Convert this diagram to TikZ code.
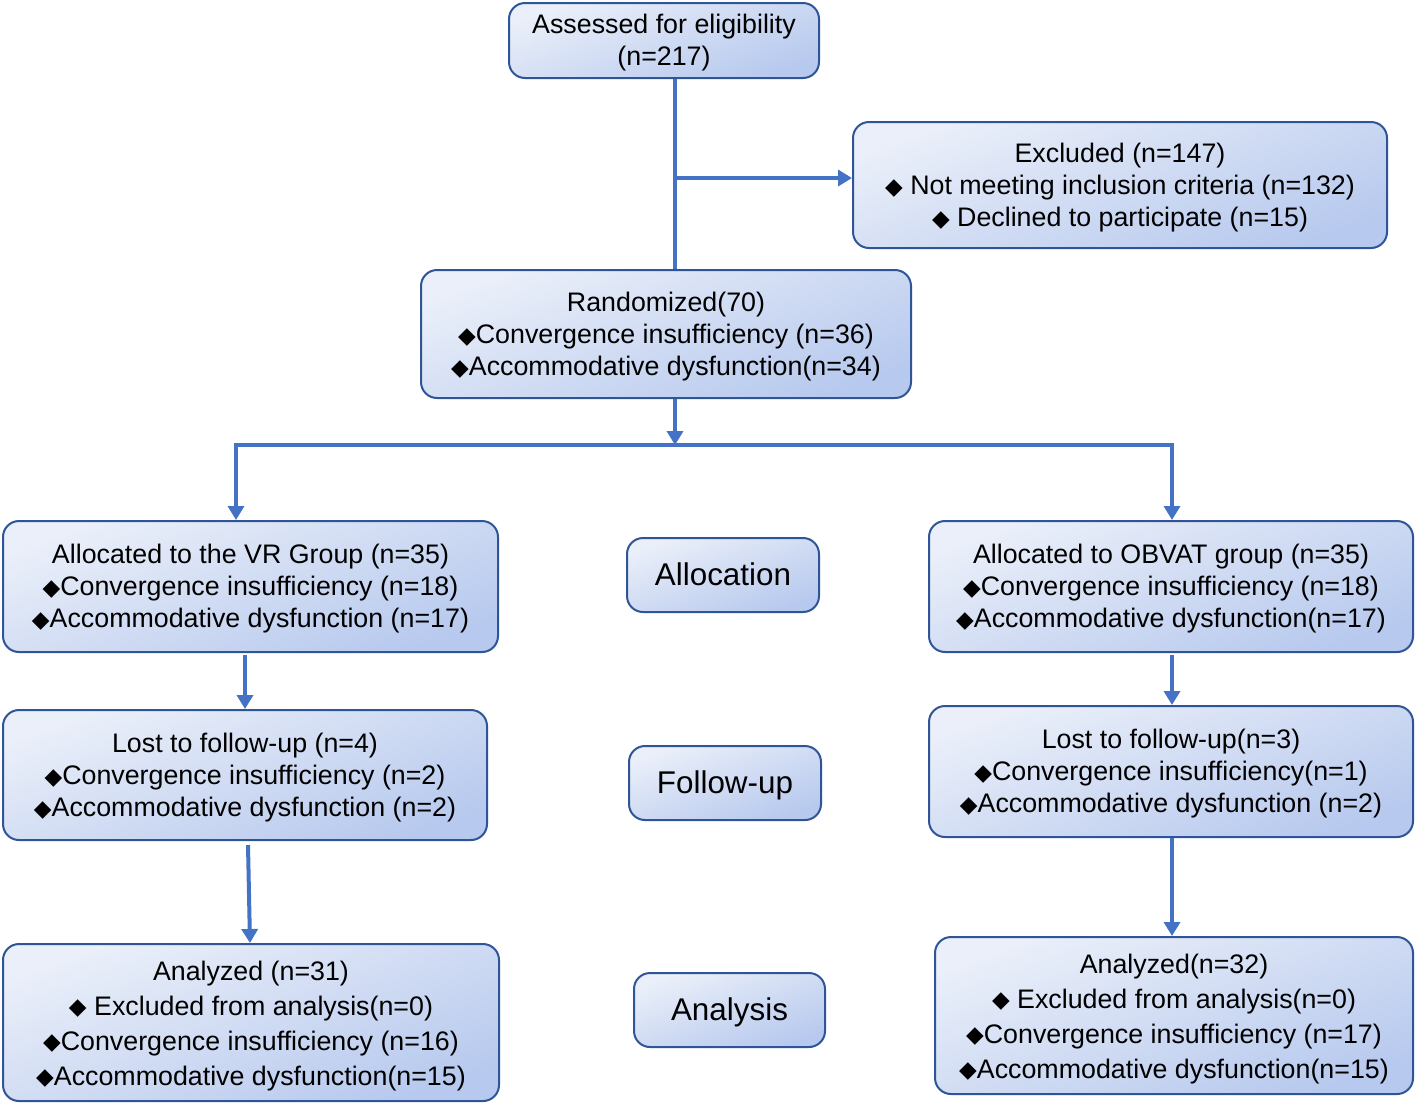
\documentclass[tikz,border=0pt]{standalone}
\usepackage{fontspec}
\setmainfont{Liberation Sans}
\newfontfamily\djv{DejaVu Sans}
\usetikzlibrary{arrows.meta}
\definecolor{boxtop}{HTML}{EAEFF9}
\definecolor{boxbot}{HTML}{B7C9EE}
\definecolor{boxline}{HTML}{2F5597}
\definecolor{arrc}{HTML}{4472C4}
\newcommand{\dia}{{\djv\fontsize{11.5}{10}\selectfont\raisebox{0.2pt}{◆}}}
\newcommand{\tx}[1]{\raisebox{-1.5pt}[\height][\depth]{\begin{tabular}{@{}c@{}}#1\end{tabular}}}
\tikzset{
  box/.style={draw=boxline, line width=1pt, rounded corners=8pt, top color=boxtop, bottom color=boxbot, shading angle=20, inner sep=0pt, font=\fontsize{13.4}{16}\selectfont},
  tall/.style={font=\fontsize{13.4}{17.5}\selectfont},
  lab/.style={box, font=\fontsize{15.7}{18}\selectfont},
  conn/.style={draw=arrc, line width=2pt},
  tip/.tip={Triangle[width=8pt,length=7pt]},
  arr/.style={conn, -tip}
}
\begin{document}
\begin{tikzpicture}[x=0.5pt,y=-0.5pt]
\useasboundingbox (0,0) rectangle (1416,1105);
% boxes
\node[box, minimum width=155pt, minimum height=37.5pt] (assess) at (664,40.5) {\tx{Assessed for eligibility\\(n=217)}};
\node[box, minimum width=267pt, minimum height=63pt] (excl) at (1120,185) {\tx{Excluded (n=147)\\\dia\ Not meeting inclusion criteria (n=132)\\\dia\ Declined to participate (n=15)}};
\node[box, minimum width=245pt, minimum height=64pt] (rand) at (666,334) {\tx{Randomized(70)\\\dia Convergence insufficiency (n=36)\\\dia Accommodative dysfunction(n=34)}};
\node[box, minimum width=247.5pt, minimum height=65.5pt] (vrA) at (250.5,586.5) {\tx{Allocated to the VR Group (n=35)\\\dia Convergence insufficiency (n=18)\\\dia Accommodative dysfunction (n=17)}};
\node[lab, minimum width=96pt, minimum height=37pt] (labA) at (723,575) {\tx{Allocation}};
\node[box, minimum width=242pt, minimum height=65.5pt] (obA) at (1171,586.5) {\tx{Allocated to OBVAT group (n=35)\\\dia Convergence insufficiency (n=18)\\\dia Accommodative dysfunction(n=17)}};
\node[box, minimum width=242pt, minimum height=65pt] (vrL) at (245,775) {\tx{Lost to follow-up (n=4)\\\dia Convergence insufficiency (n=2)\\\dia Accommodative dysfunction (n=2)}};
\node[lab, minimum width=96pt, minimum height=37pt] (labF) at (725,783) {\tx{Follow-up}};
\node[box, minimum width=242pt, minimum height=65.5pt] (obL) at (1171,771.5) {\tx{Lost to follow-up(n=3)\\\dia Convergence insufficiency(n=1)\\\dia Accommodative dysfunction (n=2)}};
\node[box, tall, minimum width=248pt, minimum height=78.5pt] (vrN) at (251,1022.5) {\tx{Analyzed (n=31)\\\dia\ Excluded from analysis(n=0)\\\dia Convergence insufficiency (n=16)\\\dia Accommodative dysfunction(n=15)}};
\node[lab, minimum width=95.5pt, minimum height=37pt] (labN) at (729.5,1010) {\tx{Analysis}};
\node[box, tall, minimum width=239pt, minimum height=78.5pt] (obN) at (1174,1015.5) {\tx{Analyzed(n=32)\\\dia\ Excluded from analysis(n=0)\\\dia Convergence insufficiency (n=17)\\\dia Accommodative dysfunction(n=15)}};
% connectors
\coordinate (j1) at (675,178);
\coordinate (sp) at (675,445);
\coordinate (sl) at (236,445);
\coordinate (sr) at (1172,445);
\draw[conn] (assess.south -| j1) -- (rand.north -| j1);
\draw[arr] (j1) -- (excl.west |- j1);
\draw[arr] (rand.south -| j1) -- (sp);
\draw[conn, tip-tip] (vrA.north -| sl) -- (sl) -- (sr) -- (obA.north -| sr);
\coordinate (c1) at (245,655);
\draw[arr] (c1) -- (vrL.north -| c1);
\coordinate (c2) at (248,845);
\coordinate (c2e) at (250,944);
\draw[arr] (c2) -- (vrN.north -| c2e);
\coordinate (c3) at (1172,655);
\draw[arr] (c3) -- (obL.north -| c3);
\coordinate (c4) at (1172,837);
\draw[arr] (obL.south -| c4) -- (obN.north -| c4);
\end{tikzpicture}
\end{document}
